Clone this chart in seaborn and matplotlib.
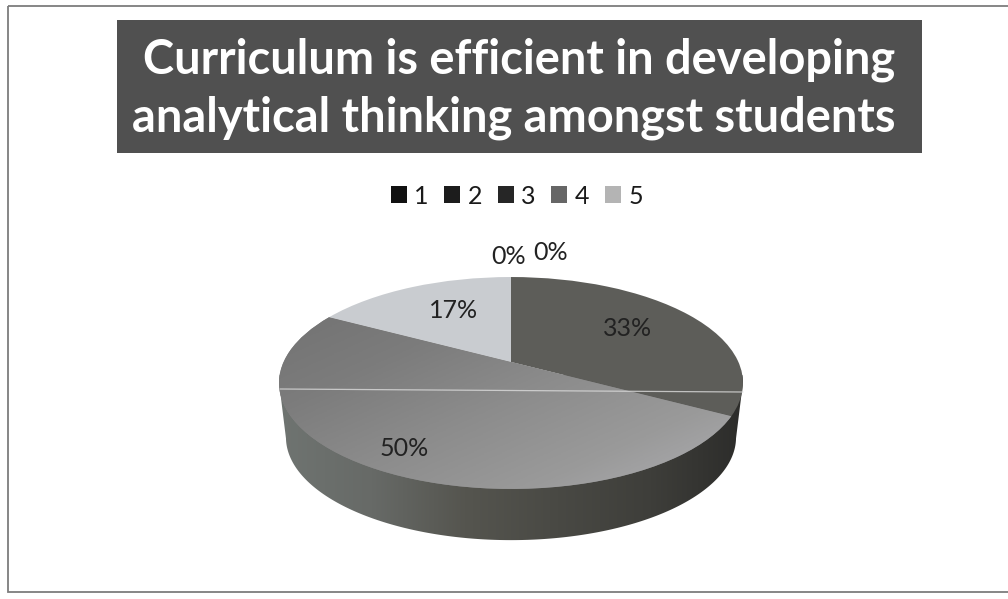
import numpy as np
import matplotlib
matplotlib.use("Agg")
import matplotlib.pyplot as plt
import matplotlib.transforms as mtransforms
from matplotlib.patches import Patch, Polygon, Rectangle
import seaborn as sns

# ---- data ----
categories = ["1", "2", "3", "4", "5"]
values = [0, 0, 33, 50, 17]
title_lines = ["Curriculum is efficient in developing",
               "analytical thinking amongst students"]
legend_colors = ["#111111", "#1c1c1c", "#262626", "#666666", "#b4b4b4"]
slice_colors = ["#111111", "#1c1c1c", "#5d5d59", "#858585", "#c9ccd0"]
label_pos = [(509, 256), (551, 253), (628, 328), (404, 448), (454, 310)]

sns.set_theme(style="white")
plt.rcParams["font.family"] = ["Lato", "DejaVu Sans"]

fig = plt.figure(figsize=(10.08, 5.99), dpi=100, facecolor="white")
ax = fig.add_axes([0, 0, 1, 1])


class Perspective(mtransforms.Transform):
    """Tilted-disc projection of the unit circle into figure-pixel axes."""
    input_dims = output_dims = 2
    is_separable = False
    has_inverse = False

    def __init__(self, cx=511, cy=362, a=227.4, b=101.8, p=0.198, scale=1.0, dy=0.0):
        super().__init__()
        self.cx, self.cy, self.a, self.b, self.p = cx, cy, a, b, p
        self.scale, self.dy = scale, dy

    def transform_non_affine(self, values):
        values = np.asarray(values, dtype=float)
        u, v = values[:, 0], values[:, 1]
        w = 1 + self.p * v
        x = self.cx + self.scale * self.a * u / w
        y = self.cy + self.dy - self.scale * self.b * v / w
        return np.column_stack([x, y])


depth = 55
top = Perspective()
bottom = Perspective(scale=0.97, dy=depth)

# side wall of the disc
t = np.linspace(0, 2 * np.pi, 721)
ring = np.column_stack([np.cos(t), np.sin(t)])
top_pts = top.transform_non_affine(ring)
bot_pts = bottom.transform_non_affine(ring)
upper = top_pts[top_pts[:, 1] <= 383]
upper = upper[np.argsort(upper[:, 0])]
lower = bot_pts[bot_pts[:, 1] >= 383 + depth]
lower = lower[np.argsort(-lower[:, 0])]
wall = Polygon(np.vstack([upper, lower]), closed=True, facecolor="none", edgecolor="none", zorder=1)
ax.add_patch(wall)
wall_cmap = sns.blend_palette(["#6f7471", "#676a67", "#55554f", "#494944", "#3e3e3a", "#2c2c2a"], as_cmap=True)
wall_im = ax.imshow(np.linspace(0, 1, 256)[None, :], extent=(278, 745, 545, 375),
                    aspect="auto", cmap=wall_cmap, zorder=1)
wall_im.set_clip_path(wall)

# top face
wedges, _, autotexts = ax.pie(values, colors=slice_colors, startangle=90, counterclock=False,
                              autopct="%.0f%%", wedgeprops=dict(linewidth=0, zorder=2),
                              textprops=dict(fontsize=18, color="#222222"))
for w in wedges:
    w.set_transform(top + ax.transData)
    w.set_zorder(2)
for txt, pos in zip(autotexts, label_pos):
    txt.set_position(pos)
    txt.set_ha("center")
    txt.set_va("center")
    txt.set_zorder(6)

# shading across the largest slice
yy, xx = np.mgrid[0:1:200j, 0:1:200j]
shade = 0.65 * xx + 0.55 * yy
face_cmap = sns.blend_palette(["#727272", "#7c7c7c", "#8c8c8c", "#9a9a9a", "#b0b0b4"], as_cmap=True)
face_im = ax.imshow(shade, extent=(278, 745, 490, 310), aspect="auto", cmap=face_cmap, zorder=3, vmin=0, vmax=1.2)
face_im.set_clip_path(wedges[3])

# scanner streak
ax.plot([280, 743], [389, 392], color="#dcdcdc", lw=0.9, alpha=0.8, zorder=4)

# border of the scanned chart
ax.add_patch(Rectangle((8, 6), 1010, 586, facecolor="none", edgecolor="#7d7d7d", lw=1.3, zorder=0))

# title on dark band
ax.add_patch(Rectangle((117, 20), 805, 133, facecolor="#505050", edgecolor="none", zorder=5))
ax.text(519, 60, title_lines[0], color="white", fontsize=33.8, fontweight="bold", ha="center", va="center", zorder=6)
ax.text(513.5, 118, title_lines[1], color="white", fontsize=33.8, fontweight="bold", ha="center", va="center", zorder=6)

# legend
handles = [Patch(facecolor=c, edgecolor="none", label=l) for c, l in zip(legend_colors, categories)]
leg = ax.legend(handles=handles, ncol=5, loc="center", bbox_to_anchor=(517 / 1008, 1 - 196 / 599),
                frameon=False, fontsize=18, handlelength=0.64, handleheight=0.64,
                handletextpad=0.3, columnspacing=0.62, labelcolor="#1a1a1a")

ax.set_aspect("auto")
ax.set_xlim(0, 1008)
ax.set_ylim(599, 0)
ax.axis("off")
fig.savefig("out.png", dpi=100, facecolor="white")
